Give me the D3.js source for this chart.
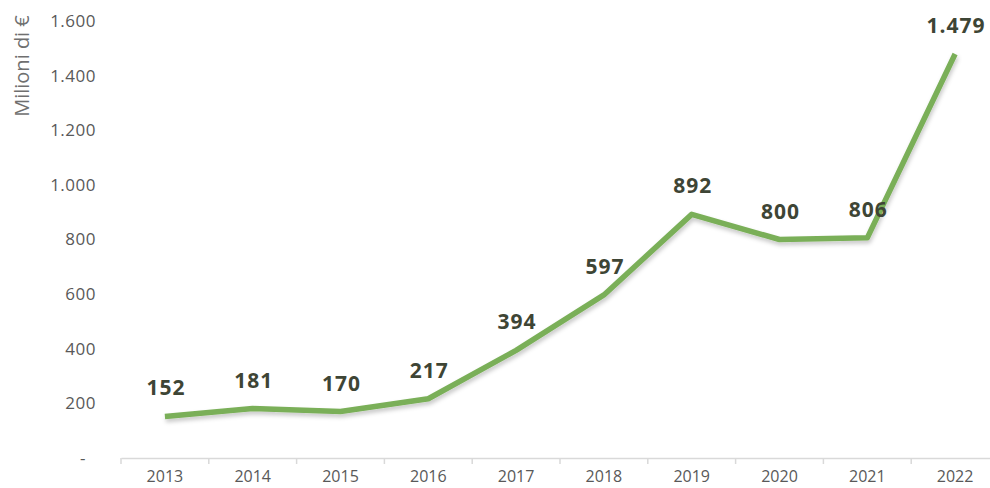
<!DOCTYPE html>
<html>
<head>
<meta charset="utf-8">
<script src="https://cdn.jsdelivr.net/npm/d3@7"></script>
<style>
  body { margin: 0; background: #fff; }
  svg { display: block; font-family: "Open Sans", Lato, sans-serif; }
</style>
</head>
<body>
<div id="chart"></div>
<script>
const years = ['2013', '2014', '2015', '2016', '2017', '2018', '2019', '2020', '2021', '2022'];
const values = [152, 181, 170, 217, 394, 597, 892, 800, 806, 1479];
const yTicks = [0, 200, 400, 600, 800, 1000, 1200, 1400, 1600];

const width = 990, height = 488;
const margin = {top: 21, right: -9, bottom: 30, left: 121};
const ch = height - margin.top - margin.bottom;
const cw = width - margin.left - margin.right;

const svg = d3.select('#chart').append('svg').attr('width', width).attr('height', height);

const defs = svg.append('defs');
const shadow = defs.append('filter').attr('id', 'shadow').attr('x', '-10%').attr('y', '-10%').attr('width', '120%').attr('height', '130%');
shadow.append('feDropShadow').attr('dx', 1).attr('dy', 3).attr('stdDeviation', 2)
  .attr('flood-color', '#000').attr('flood-opacity', 0.22);

const xScale = d3.scaleBand().domain(years).range([0, cw]);
const yScale = d3.scaleLinear().domain([0, 1600]).range([ch, 0]);

const fmt = d => d === 0 ? '-' : d3.format(',')(d).replace(/,/g, '.');

// x axis
const xAxis = svg.append('g')
  .attr('transform', `translate(${margin.left}, ${margin.top + ch})`)
  .call(d3.axisBottom(xScale).tickSize(0).tickPadding(13))
  .attr('font-family', null);
xAxis.select('.domain').attr('stroke', '#d9d9d9').attr('stroke-width', 1.5);
xAxis.selectAll('text').attr('fill', '#595959').attr('font-size', 16);
xAxis.selectAll('line.sep')
  .data(years)
  .join('line')
  .attr('class', 'sep')
  .attr('x1', d => xScale(d)).attr('x2', d => xScale(d))
  .attr('y1', 0).attr('y2', 6)
  .attr('stroke', '#d9d9d9').attr('stroke-width', 1.5);

// y axis (labels only)
const yAxis = svg.append('g')
  .attr('transform', `translate(${margin.left - 25}, ${margin.top})`)
  .call(d3.axisLeft(yScale).tickValues(yTicks).tickFormat(fmt).tickSize(0).tickPadding(0))
  .attr('font-family', null);
yAxis.select('.domain').remove();
yAxis.selectAll('text').attr('fill', '#595959').attr('font-size', 17)
  .attr('letter-spacing', 0.5)
  .attr('dx', d => d === 0 ? -10 : 0);

svg.append('text')
  .attr('transform', `translate(29, ${margin.top + 45}) rotate(-90)`)
  .attr('text-anchor', 'middle')
  .attr('fill', '#6f6f6f')
  .attr('font-size', 20)
  .text('Milioni di €');

const area = svg.append('g').attr('transform', `translate(${margin.left}, ${margin.top})`);
const cx = d => xScale(d) + xScale.bandwidth() / 2;

const line = d3.line()
  .x((d, i) => cx(years[i]))
  .y(d => yScale(d));

area.append('path')
  .datum(values)
  .attr('d', line)
  .attr('fill', 'none')
  .attr('stroke', '#7aaf58')
  .attr('stroke-width', 5.5)
  .attr('stroke-linejoin', 'round')
  .attr('filter', 'url(#shadow)');

area.selectAll('text.lbl')
  .data(values)
  .join('text')
  .attr('class', 'lbl')
  .attr('x', (d, i) => cx(years[i]) + 1)
  .attr('y', d => yScale(d) - 21)
  .attr('text-anchor', 'middle')
  .attr('font-size', 21)
  .attr('font-weight', 'bold')
  .attr('letter-spacing', 1)
  .attr('fill', '#3e4535')
  .text(fmt);
</script>
</body>
</html>
